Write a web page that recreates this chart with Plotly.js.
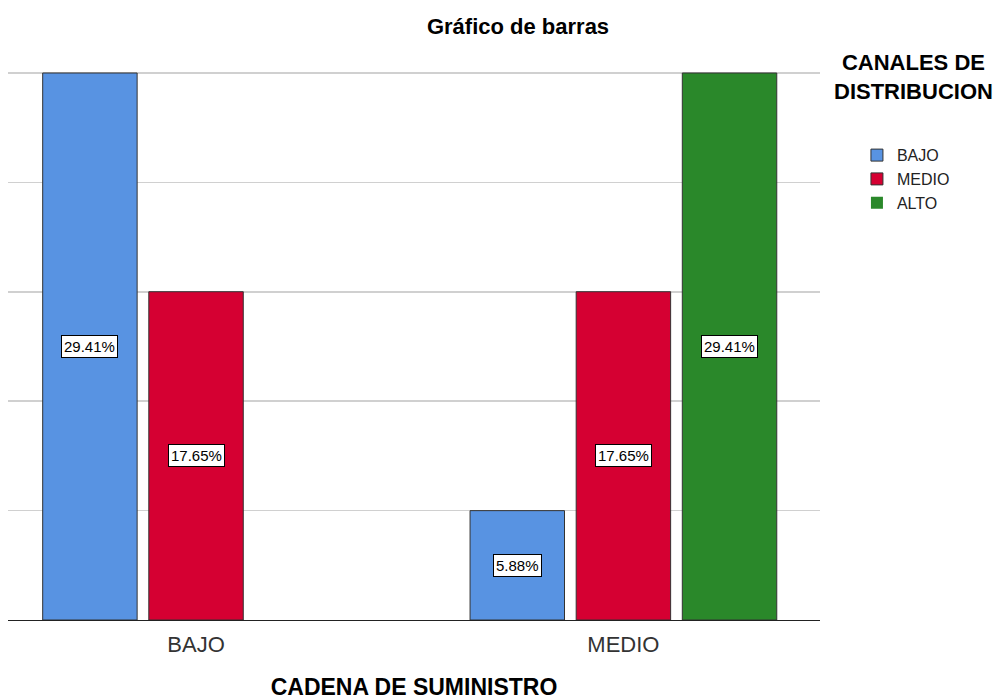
<!DOCTYPE html>
<html>
<head>
<meta charset="utf-8">
<script src="https://cdn.plot.ly/plotly-3.0.1.min.js"></script>
<style>html,body{margin:0;padding:0;background:#fff;}#chart{width:1001px;height:700px;}</style>
</head>
<body>
<div id="chart"></div>
<script>
var categories = ["BAJO", "MEDIO"];
var seriesNames = ["BAJO", "MEDIO", "ALTO"];
var bajoValues = [29.41, 5.88];
var medioValues = [17.65, 17.65];
var altoValues = [0, 29.41];
var seriesColors = ["#5893e2", "#d50032", "#2a882a"];

var allValues = [bajoValues, medioValues, altoValues];
var FONT = "Arial, 'Liberation Sans', sans-serif";
var bargap = 0.255;
var slot = (1 - bargap) / allValues.length;

var traces = allValues.map(function (vals, i) {
  return {
    type: "bar",
    name: seriesNames[i],
    x: categories,
    y: vals,
    marker: {
      color: seriesColors[i],
      line: { color: "#333333", width: vals.map(function (v) { return v > 0 ? 1 : 0; }) }
    },
    hoverinfo: "none"
  };
});

var annotations = [];
allValues.forEach(function (vals, i) {
  vals.forEach(function (v, j) {
    if (v > 0) {
      annotations.push({
        xref: "x", yref: "y",
        x: j + (i - (allValues.length - 1) / 2) * slot,
        y: v / 2,
        text: v.toFixed(2) + "%",
        showarrow: false,
        font: { family: FONT, size: 15, color: "#000" },
        bgcolor: "#ffffff",
        bordercolor: "#000000",
        borderwidth: 1,
        borderpad: 2
      });
    }
  });
});

annotations.push({
  xref: "paper", yref: "paper",
  x: 1.1151, y: 1.04,
  xanchor: "center", yanchor: "top",
  text: "<b>CANALES DE<br>DISTRIBUCION</b>",
  showarrow: false,
  align: "center",
  font: { family: FONT, size: 22, color: "#000" }
});

var maxVal = Math.max.apply(null, bajoValues.concat(medioValues, altoValues));

var layout = {
  width: 1001, height: 700,
  margin: { l: 8, r: 181, t: 70, b: 80 },
  paper_bgcolor: "#ffffff",
  plot_bgcolor: "#ffffff",
  barmode: "group",
  bargap: bargap,
  bargroupgap: 0.11,
  title: {
    text: "<b>Gráfico de barras</b>",
    font: { family: FONT, size: 22, color: "#000" },
    xref: "container", yref: "container",
    x: 0.5175, y: 0.962, xanchor: "center", yanchor: "middle"
  },
  xaxis: {
    type: "category",
    range: [-0.44, 1.46],
    showgrid: false,
    showline: true,
    linecolor: "#222222",
    linewidth: 1,
    ticks: "",
    ticklabelstandoff: 5,
    tickfont: { family: FONT, size: 22, color: "#333" },
    title: {
      text: "<b>CADENA DE SUMINISTRO</b>",
      font: { family: FONT, size: 23, color: "#000" },
      standoff: 26
    },
    fixedrange: true
  },
  yaxis: {
    range: [0, maxVal * 1.0055],
    dtick: maxVal / 5,
    tick0: 0,
    showticklabels: false,
    showgrid: true,
    gridcolor: "#d0d0d0",
    gridwidth: 1.5,
    zeroline: false,
    showline: false,
    ticks: "",
    fixedrange: true
  },
  showlegend: true,
  legend: {
    x: 1.0455, y: 0.876,
    xanchor: "left", yanchor: "top",
    font: { family: FONT, size: 16, color: "#222" },
    bgcolor: "rgba(0,0,0,0)",
    tracegroupgap: 0
  },
  annotations: annotations
};

Plotly.newPlot("chart", traces, layout, { staticPlot: true, displayModeBar: false });
</script>
</body>
</html>
